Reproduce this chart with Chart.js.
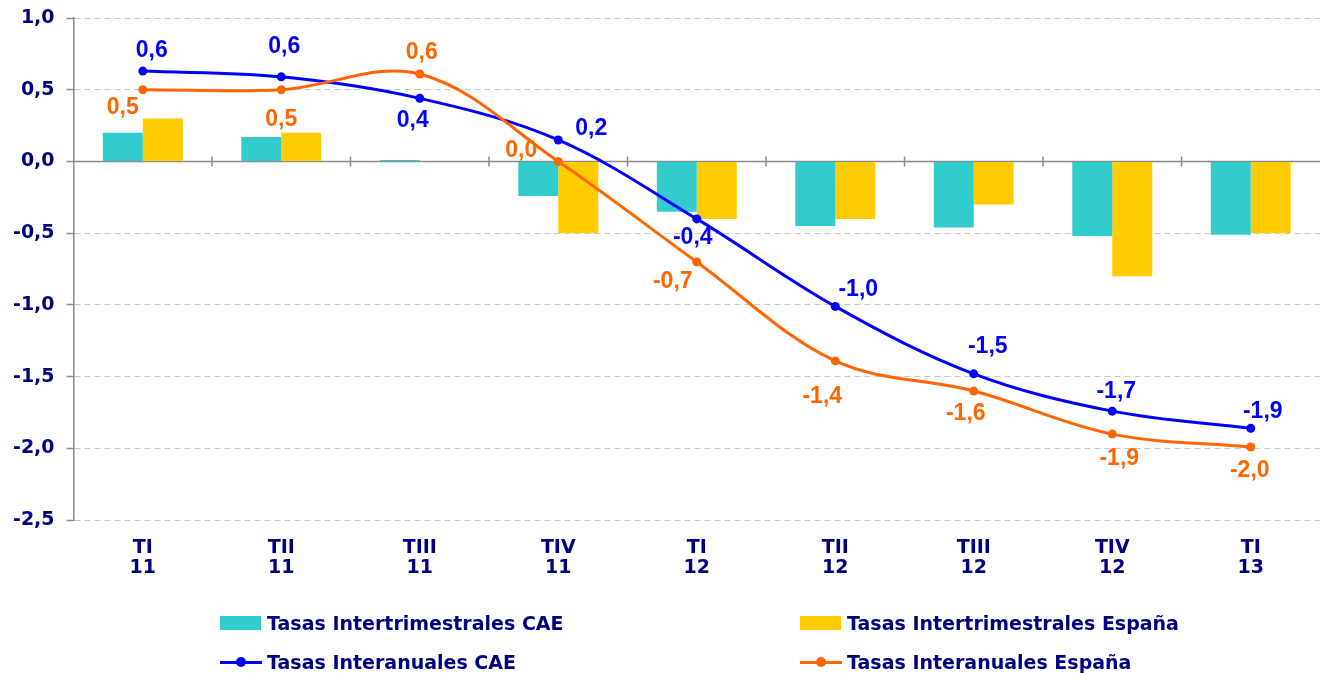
<!DOCTYPE html>
<html>
<head>
<meta charset="utf-8">
<script src="https://cdn.jsdelivr.net/npm/chart.js@4"></script>
<style>
  html, body { margin: 0; padding: 0; background: #fff; }
  #wrap { position: relative; width: 1329px; height: 673px; }
  #chart { position: absolute; left: 0; top: 0; }
  .leg { position: absolute; font: bold 19px "DejaVu Sans", Verdana, sans-serif; color: #000080; white-space: nowrap; line-height: 20px; }
  .sw { position: absolute; }
</style>
</head>
<body>
<div id="wrap">
  <canvas id="chart" width="1329" height="673"></canvas>
  <div id="legend"></div>
</div>
<script>
// ---- data ----
const categories = [["TI","11"],["TII","11"],["TIII","11"],["TIV","11"],["TI","12"],["TII","12"],["TIII","12"],["TIV","12"],["TI","13"]];
const seriesNames = ["Tasas Intertrimestrales CAE","Tasas Intertrimestrales España","Tasas Interanuales CAE","Tasas Interanuales España"];
const interCAE    = [0.20, 0.17, 0.01, -0.24, -0.35, -0.45, -0.46, -0.52, -0.51];
const interEspana = [0.30, 0.20, 0.00, -0.50, -0.40, -0.40, -0.30, -0.80, -0.50];
const anualCAE    = [0.63, 0.59, 0.44, 0.15, -0.40, -1.01, -1.48, -1.74, -1.86];
const anualEspana = [0.50, 0.50, 0.61, 0.00, -0.70, -1.39, -1.60, -1.90, -1.99];
const yTicks = [1.0, 0.5, 0.0, -0.5, -1.0, -1.5, -2.0, -2.5];

// ---- styles ----
const C_TEAL = '#33CCCC', C_YELLOW = '#FFCC00', C_BLUE = '#0000FF', C_ORANGE = '#FF6600', C_NAVY = '#000080';
// label offsets (dx, dy) from each point
const offCAE = [[9,-20],[3,-30],[-7,22],[33,-11],[-4,19],[23,-17],[14,-27],[4,-19],[12,-17]];
const offEsp = [[-20,18],[0,30],[2,-21],[-37,-11],[-24,20],[-13,36],[-8,23],[7,25],[-1,24]];

const fmt = v => (Math.round(v * 10) / 10).toFixed(1).replace('.', ',').replace('-0,0','0,0');

const extrasPlugin = {
  id: 'extras',
  beforeDatasetsDraw(chart) {
    const ctx = chart.ctx, x = chart.scales.x, y = chart.scales.y, a = chart.chartArea;
    const y0 = y.getPixelForValue(0);
    ctx.save();
    ctx.strokeStyle = '#8c8c8c';
    ctx.lineWidth = 1.5;
    ctx.beginPath();
    ctx.moveTo(a.left, y0); ctx.lineTo(a.right, y0);
    for (let i = 0; i < categories.length - 1; i++) {
      const bx = (x.getPixelForValue(i) + x.getPixelForValue(i + 1)) / 2;
      ctx.moveTo(bx, y0 - 5); ctx.lineTo(bx, y0 + 5);
    }
    ctx.stroke();
    ctx.restore();
  },
  afterDatasetsDraw(chart) {
    const ctx = chart.ctx;
    ctx.save();
    ctx.font = '700 23px Arial, "Liberation Sans", sans-serif';
    ctx.textAlign = 'center';
    ctx.textBaseline = 'middle';
    [[2, anualCAE, offCAE, C_BLUE], [3, anualEspana, offEsp, C_ORANGE]].forEach(([di, vals, offs, col]) => {
      const meta = chart.getDatasetMeta(di);
      ctx.fillStyle = col;
      meta.data.forEach((pt, i) => {
        ctx.fillText(fmt(vals[i]), pt.x + offs[i][0], pt.y + offs[i][1]);
      });
    });
    ctx.restore();
  }
};

const lineOpts = (label, data, col, order) => ({
  type: 'line', label, data, borderColor: col, backgroundColor: col, borderWidth: 3,
  pointRadius: 4.5, pointBorderWidth: 0, pointBackgroundColor: col, tension: 0.35, order
});

const chart = new Chart(document.getElementById('chart'), {
  type: 'bar',
  data: {
    labels: categories,
    datasets: [
      { label: seriesNames[0], data: interCAE, backgroundColor: C_TEAL, barPercentage: 1, categoryPercentage: 0.577, order: 3 },
      { label: seriesNames[1], data: interEspana, backgroundColor: C_YELLOW, barPercentage: 1, categoryPercentage: 0.577, order: 3 },
      lineOpts(seriesNames[2], anualCAE, C_BLUE, 1),
      lineOpts(seriesNames[3], anualEspana, C_ORANGE, 0)
    ]
  },
  options: {
    responsive: false,
    animation: false,
    layout: { padding: { top: 18, right: 9, left: 1, bottom: 77 } },
    plugins: { legend: { display: false }, tooltip: { enabled: false } },
    scales: {
      x: {
        offset: true,
        grid: { display: false, drawTicks: false },
        border: { display: false },
        ticks: { color: C_NAVY, font: { family: '"DejaVu Sans", Verdana, sans-serif', weight: 'bold', size: 19, lineHeight: 1.1 }, padding: 17, maxRotation: 0 }
      },
      y: {
        min: -2.5, max: 1.0,
        afterBuildTicks: axis => { axis.ticks = yTicks.map(v => ({ value: v })); },
        afterFit: s => { s.paddingTop = 0; s.paddingBottom = 0; },
        grid: { color: '#c8c8c8', lineWidth: 1, tickLength: 7, tickColor: '#8c8c8c', tickWidth: 1.5, tickBorderDash: [] },
        border: { display: true, color: '#8c8c8c', width: 1.5, dash: [6, 4] },
        ticks: { color: C_NAVY, padding: 12, font: { family: '"DejaVu Sans", Verdana, sans-serif', weight: 'bold', size: 19 }, callback: v => fmt(v) }
      }
    }
  },
  plugins: [extrasPlugin]
});

// ---- HTML legend ----
const legendItems = [
  { name: seriesNames[0], kind: 'bar', color: C_TEAL, x: 220, y: 623 },
  { name: seriesNames[1], kind: 'bar', color: C_YELLOW, x: 800, y: 623 },
  { name: seriesNames[2], kind: 'line', color: C_BLUE, x: 220, y: 662 },
  { name: seriesNames[3], kind: 'line', color: C_ORANGE, x: 800, y: 662 }
];
const legend = document.getElementById('legend');
legendItems.forEach(it => {
  if (it.kind === 'bar') {
    const s = document.createElement('div');
    s.className = 'sw';
    Object.assign(s.style, { left: it.x + 'px', top: (it.y - 7) + 'px', width: '41px', height: '14px', background: it.color });
    legend.appendChild(s);
  } else {
    const l = document.createElement('div');
    l.className = 'sw';
    Object.assign(l.style, { left: it.x + 'px', top: (it.y - 1.5) + 'px', width: '42px', height: '3px', background: it.color });
    legend.appendChild(l);
    const d = document.createElement('div');
    d.className = 'sw';
    Object.assign(d.style, { left: (it.x + 16) + 'px', top: (it.y - 5) + 'px', width: '10px', height: '10px', borderRadius: '50%', background: it.color });
    legend.appendChild(d);
  }
  const t = document.createElement('div');
  t.className = 'leg';
  t.textContent = it.name;
  Object.assign(t.style, { left: (it.x + 47) + 'px', top: (it.y - 10) + 'px' });
  legend.appendChild(t);
});
</script>
</body>
</html>
